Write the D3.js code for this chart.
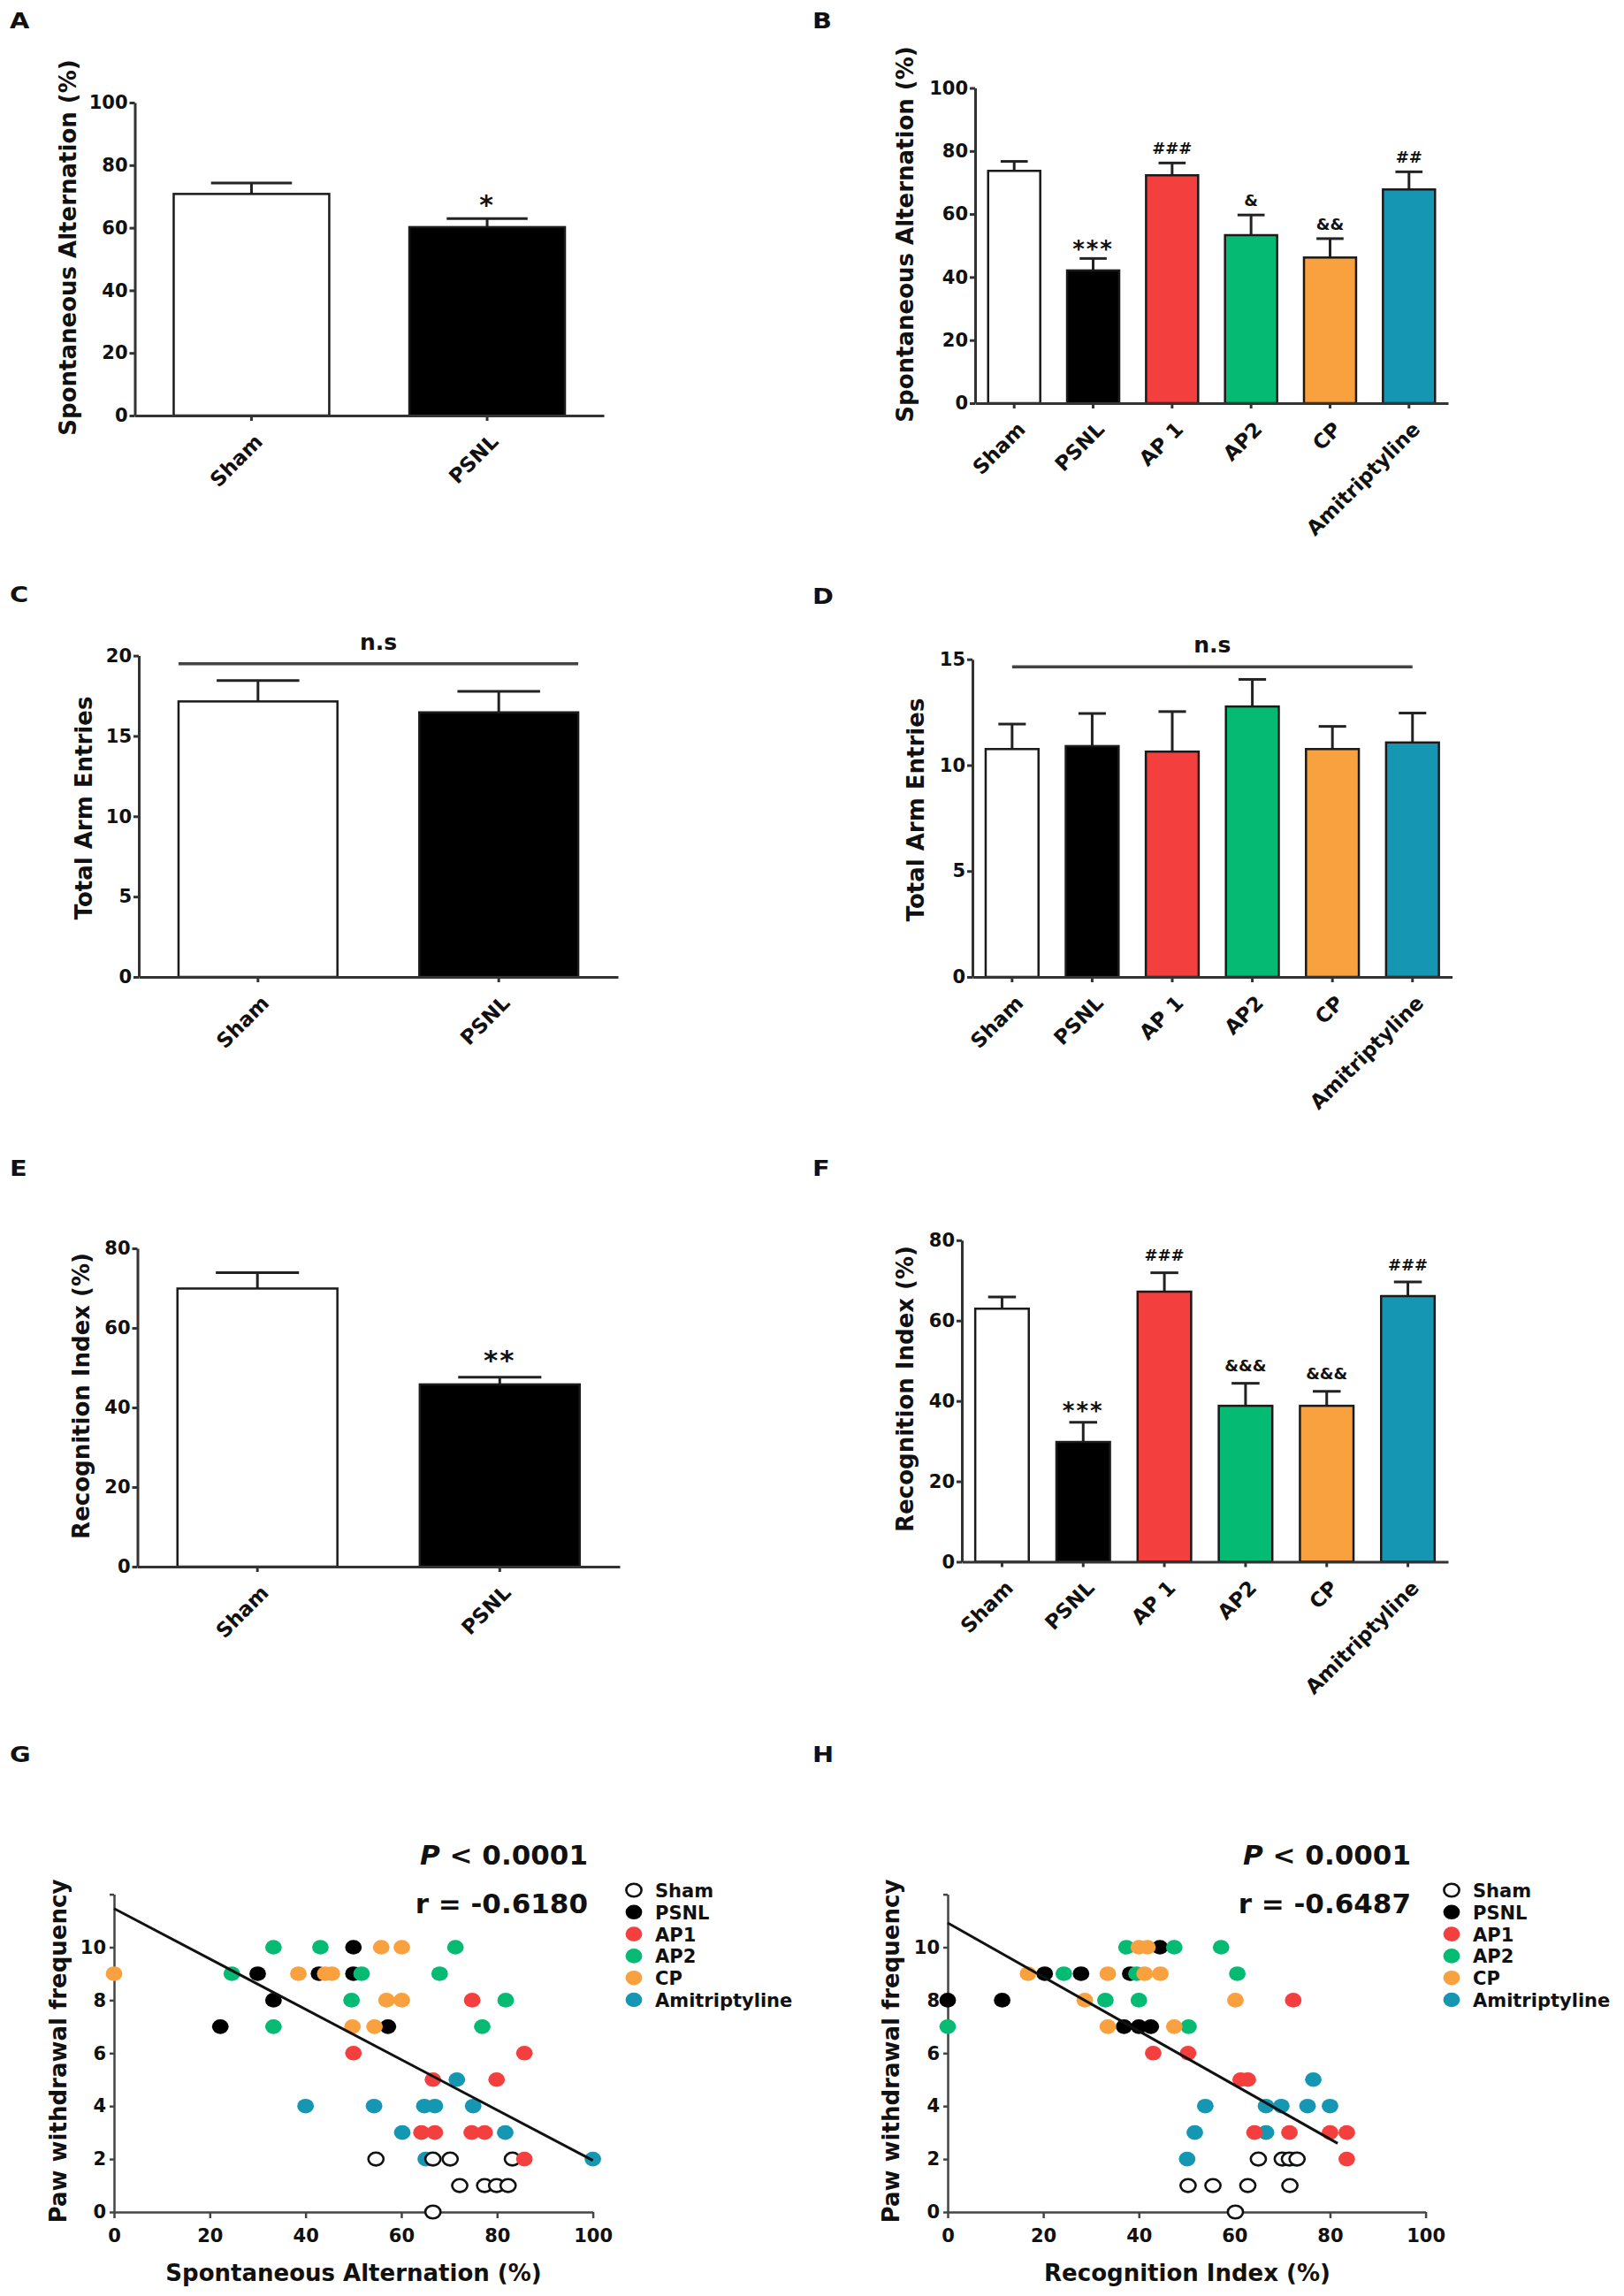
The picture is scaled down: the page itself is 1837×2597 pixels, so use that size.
<!DOCTYPE html>
<html>
<head>
<meta charset="utf-8">
<script src="https://cdn.jsdelivr.net/npm/d3@7"></script>
<style>
  body { margin: 0; background: #fff; }
  svg text { font-family: "DejaVu Sans", sans-serif; font-weight: bold; fill: #111; }
</style>
</head>
<body>
<svg id="fig" width="1837" height="2597"></svg>
<script>
/* DATA */
const groups2 = ["Sham", "PSNL"];
const groups6 = ["Sham", "PSNL", "AP 1", "AP2", "CP", "Amitriptyline"];
const fills = ["#ffffff", "#000000", "#f43f3f", "#05bb74", "#f9a13e", "#1596b2"];

// A / B : spontaneous alternation (%), mean and upper error
const altMean2 = [70.8, 60.2];
const altErr2 = [74.3, 62.9];
const altNote2 = ["", "*"];
const altMean6 = [73.7, 42.1, 72.3, 53.3, 46.2, 67.8];
const altErr6 = [76.7, 45.9, 76.2, 59.7, 52.2, 73.4];
const altNote6 = ["", "***", "###", "&", "&&", "##"];

// C / D : total arm entries
const armMean2 = [17.15, 16.47];
const armErr2 = [18.45, 17.77];
const armMean6 = [10.76, 10.9, 10.64, 12.77, 10.76, 11.07];
const armErr6 = [11.94, 12.44, 12.53, 14.05, 11.83, 12.46];

// E / F : recognition index (%)
const recMean2 = [69.9, 45.8];
const recErr2 = [73.9, 47.6];
const recNote2 = ["", "**"];
const recMean6 = [62.96, 29.8, 67.2, 38.8, 38.8, 66.1];
const recErr6 = [65.9, 34.7, 71.9, 44.4, 42.4, 69.6];
const recNote6 = ["", "***", "###", "&&&", "&&&", "###"];

// tick values
const ticksAlt = [0, 20, 40, 60, 80, 100];
const ticksArm2 = [0, 5, 10, 15, 20];
const ticksArm6 = [0, 5, 10, 15];
const ticksRec = [0, 20, 40, 60, 80];
const ticksPct = [0, 20, 40, 60, 80, 100];
const ticksPaw = [0, 2, 4, 6, 8, 10, 12];

// G : paw withdrawal vs spontaneous alternation
const legendNames = ["Sham", "PSNL", "AP1", "AP2", "CP", "Amitriptyline"];
const gShamX = [54.7, 66.6, 70.2, 83.2, 72.2, 77.4, 79.9, 82.3, 66.6];
const gShamY = [2, 2, 2, 2, 1, 1, 1, 1, 0];
const gPsnlX = [22.2, 30, 33.3, 42.8, 50, 50, 57.2];
const gPsnlY = [7, 9, 8, 9, 10, 9, 7];
const gAp1X = [74.8, 85.7, 50, 66.6, 79.9, 64.2, 67, 74.7, 77.4, 85.7];
const gAp1Y = [8, 6, 6, 5, 5, 3, 3, 3, 3, 2];
const gAp2X = [33.3, 43.1, 71.3, 24.6, 51.7, 68, 49.6, 81.8, 33.3, 76.9];
const gAp2Y = [10, 10, 10, 9, 9, 9, 8, 8, 7, 7];
const gCpX = [0, 55.8, 60.1, 38.5, 44.1, 45.5, 56.9, 60.1, 49.8, 54.4];
const gCpY = [9, 10, 10, 9, 9, 9, 8, 8, 7, 7];
const gAmiX = [40, 54.3, 64.8, 67, 71.6, 75, 60.2, 81.7, 65.1, 100];
const gAmiY = [4, 4, 4, 4, 5, 4, 3, 3, 2, 2];
const gFitX = [0, 100];
const gFitY = [11.46, 1.95];

// H : paw withdrawal vs recognition index
const hShamX = [50.3, 55.5, 62.8, 71.6, 65, 70, 71.5, 73.1, 60.2];
const hShamY = [1, 1, 1, 1, 2, 2, 2, 2, 0];
const hPsnlX = [0, 11.4, 20.3, 27.9, 38.2, 44.4, 36.9, 40, 42.5];
const hPsnlY = [8, 8, 9, 9, 9, 10, 7, 7, 7];
const hAp1X = [72.3, 43, 50.3, 61.3, 62.8, 64.2, 71.5, 80, 83.5, 83.5];
const hAp1Y = [8, 6, 6, 5, 5, 3, 3, 3, 3, 2];
const hAp2X = [37.4, 47.4, 57.2, 24.3, 39.5, 60.6, 33, 40, 50.4, 0];
const hAp2Y = [10, 10, 10, 9, 9, 9, 8, 8, 7, 7];
const hCpX = [40, 41.8, 16.8, 33.5, 41.2, 44.5, 28.7, 60.2, 33.5, 47.4];
const hCpY = [10, 10, 9, 9, 9, 9, 8, 8, 7, 7];
const hAmiX = [53.9, 66.6, 69.8, 75.3, 80, 76.5, 51.7, 66.6, 50.1, 72.6];
const hAmiY = [4, 4, 4, 4, 4, 5, 3, 3, 2, 2];
const hFitX = [0, 81.6];
const hFitY = [10.92, 2.59];

/* SETUP */
const svg = d3.select("#fig");
const axisColor = "#333";

// panel letters are a bit wider than the regular face, so stretch them
function panelLabel(txt, x, y) {
  svg.append("text")
    .attr("transform", `translate(${x},${y}) scale(1.2,1)`)
    .attr("font-size", 24).text(txt);
}

function yTitle(txt, cx, cy) {
  svg.append("text")
    .attr("transform", `translate(${cx},${cy}) rotate(-90)`)
    .attr("text-anchor", "middle")
    .attr("dy", "0.36em")
    .attr("font-size", 26)
    .text(txt);
}

function styleAxis(g, size) {
  g.attr("font-family", null).attr("font-size", size);
  g.selectAll("path, line").attr("stroke", axisColor).attr("stroke-width", 3);
  g.selectAll("text").attr("fill", "#111");
}

// baseline offset so that a symbol's visual centre sits on the given y
function noteShift(s, fs) {
  return s.startsWith("*") ? 0.62 * fs : 0.37 * fs;
}

function barPanel(o) {
  const x = d3.scaleBand().domain(o.cats)
    .range([o.x0, o.x1]).paddingInner(0.34).paddingOuter(0.165);
  const y = d3.scaleLinear().domain([0, o.yMax]).range([o.y0, o.yTop]);
  const g = svg.append("g");
  const bw = x.bandwidth();

  // error bars (upper only)
  const eb = g.selectAll("g.err").data(o.cats).join("g").attr("class", "err");
  eb.append("line")
    .attr("x1", d => x(d) + bw / 2).attr("x2", d => x(d) + bw / 2)
    .attr("y1", (d, i) => y(o.mean[i])).attr("y2", (d, i) => y(o.err[i]));
  eb.append("line")
    .attr("x1", d => x(d) + bw * 0.24).attr("x2", d => x(d) + bw * 0.76)
    .attr("y1", (d, i) => y(o.err[i])).attr("y2", (d, i) => y(o.err[i]));
  eb.selectAll("line").attr("stroke", "#222").attr("stroke-width", 3);

  g.selectAll("rect.bar").data(o.cats).join("rect")
    .attr("class", "bar")
    .attr("x", d => x(d))
    .attr("width", bw)
    .attr("y", (d, i) => y(o.mean[i]))
    .attr("height", (d, i) => o.y0 - y(o.mean[i]))
    .attr("fill", (d, i) => fills[i])
    .attr("stroke", "#1a1a1a")
    .attr("stroke-width", 2.5);

  // significance marks
  if (o.notes) {
    g.selectAll("text.note").data(o.cats).join("text")
      .attr("class", "note")
      .attr("text-anchor", "middle")
      .attr("x", d => x(d) + bw / 2)
      .attr("font-size", (d, i) => o.notes[i].startsWith("*") ? o.starSize : 18)
      .attr("letter-spacing", (d, i) => o.notes[i].startsWith("*") ? 2 : 0)
      .attr("y", (d, i) => {
        const fs = o.notes[i].startsWith("*") ? o.starSize : 18;
        return y(o.err[i]) - o.noteGap + noteShift(o.notes[i], fs);
      })
      .text((d, i) => o.notes[i]);
  }

  // n.s bracket
  if (o.ns) {
    const xa = o.ns.fromEdge ? x(o.cats[0]) : x(o.cats[0]) + bw / 2;
    const xb = o.ns.fromEdge ? x(o.cats[o.cats.length - 1]) + bw
                             : x(o.cats[o.cats.length - 1]) + bw / 2;
    g.append("line").attr("x1", xa).attr("x2", xb)
      .attr("y1", y(o.ns.level)).attr("y2", y(o.ns.level))
      .attr("stroke", "#444").attr("stroke-width", 3.5);
    g.append("text").attr("text-anchor", "middle")
      .attr("x", (xa + xb) / 2).attr("y", y(o.ns.level) - 16)
      .attr("font-size", 25).text("n.s");
  }

  const ya = g.append("g").attr("transform", `translate(${o.x0},0)`)
    .call(d3.axisLeft(y).tickValues(o.ticks).tickSize(6).tickPadding(2).tickSizeOuter(0));
  styleAxis(ya, 21);

  const xa = g.append("g").attr("transform", `translate(0,${o.y0})`)
    .call(d3.axisBottom(x).tickSize(6).tickSizeOuter(0));
  styleAxis(xa, 23);
  xa.selectAll("text")
    .attr("text-anchor", "end")
    .attr("x", 0).attr("y", 0).attr("dy", null)
    .attr("transform", "translate(14,31) rotate(-45)");

  panelLabel(o.label, o.lx, o.ly);
  yTitle(o.title, o.tx, o.ty);
}

function scatterPanel(o) {
  const x = d3.scaleLinear().domain([0, 100]).range([o.x0, o.x100]);
  const y = d3.scaleLinear().domain([0, 12]).range([2502, 2142.6]);
  const g = svg.append("g");

  const xa = g.append("g").attr("transform", `translate(0,${y(0)})`)
    .call(d3.axisBottom(x).tickValues(ticksPct).tickSize(7).tickPadding(12).tickSizeOuter(0));
  styleAxis(xa, 21);
  xa.selectAll("path, line").attr("stroke", "#444").attr("stroke-width", 2.5);

  const ya = g.append("g").attr("transform", `translate(${x(0)},0)`)
    .call(d3.axisLeft(y).tickValues(ticksPaw).tickSize(5).tickPadding(4).tickSizeOuter(0)
      .tickFormat(d => d === 12 ? "" : d));
  styleAxis(ya, 21);
  ya.selectAll("path, line").attr("stroke", "#444").attr("stroke-width", 2.5);

  // draw order: Amitriptyline, Sham, PSNL, AP1, AP2, CP
  const order = [5, 0, 1, 2, 3, 4];
  order.forEach(k => {
    const s = o.series[k];
    const pts = s.x.map((v, i) => ({ x: v, y: s.y[i] }));
    const open = k === 0;
    g.selectAll(null).data(pts).join("ellipse")
      .attr("cx", d => x(d.x)).attr("cy", d => y(d.y))
      .attr("rx", open ? 8.6 : 9.4).attr("ry", open ? 7.3 : 8.3)
      .attr("fill", fills[k])
      .attr("stroke", open ? "#111" : "none")
      .attr("stroke-width", open ? 2.6 : 0);
  });

  // regression line
  g.append("path")
    .datum(o.fitX.map((v, i) => [v, o.fitY[i]]))
    .attr("d", d3.line().x(d => x(d[0])).y(d => y(d[1])))
    .attr("stroke", "#111").attr("stroke-width", 3).attr("fill", "none");

  // statistics
  const p = g.append("text").attr("text-anchor", "end")
    .attr("x", o.statX).attr("y", 2109).attr("font-size", 31);
  p.append("tspan").attr("font-style", "italic").text("P");
  p.append("tspan").text(" < 0.0001");
  g.append("text").attr("text-anchor", "end")
    .attr("x", o.statX).attr("y", 2164).attr("font-size", 31).text(o.r);

  // legend
  const lg = g.append("g").attr("class", "legend");
  legendNames.forEach((name, i) => {
    const ly = 2138 + i * 24.8;
    lg.append("ellipse").attr("cx", o.legX).attr("cy", ly)
      .attr("rx", i === 0 ? 8.6 : 9.4).attr("ry", i === 0 ? 7.3 : 8.3)
      .attr("fill", fills[i])
      .attr("stroke", i === 0 ? "#111" : "none").attr("stroke-width", 2.6);
    lg.append("text").attr("x", o.legX + 24).attr("y", ly + 8)
      .attr("font-size", 21).text(name);
  });

  // x title
  g.append("text").attr("text-anchor", "middle")
    .attr("x", o.xtx).attr("y", 2580).attr("font-size", 26).text(o.xTitle);

  panelLabel(o.label, o.lx, 1993);
  yTitle("Paw withdrawal frequency", o.ytx, 2320);
}

/* PANELS */
barPanel({ label: "A", lx: 11, ly: 32, cats: groups2, mean: altMean2, err: altErr2,
  notes: altNote2, starSize: 30, noteGap: 24, yMax: 100, ticks: ticksAlt,
  x0: 152.5, x1: 683, y0: 470, yTop: 116,
  title: "Spontaneous Alternation (%)", tx: 77, ty: 280 });

barPanel({ label: "B", lx: 919, ly: 32, cats: groups6, mean: altMean6, err: altErr6,
  notes: altNote6, starSize: 26, noteGap: 17, yMax: 100, ticks: ticksAlt,
  x0: 1103, x1: 1638, y0: 456, yTop: 99.5,
  title: "Spontaneous Alternation (%)", tx: 1024, ty: 265 });

barPanel({ label: "C", lx: 11, ly: 681, cats: groups2, mean: armMean2, err: armErr2,
  yMax: 20, ticks: ticksArm2, ns: { level: 19.5, fromEdge: true },
  x0: 157, x1: 699, y0: 1105, yTop: 741.6,
  title: "Total Arm Entries", tx: 95, ty: 914 });

barPanel({ label: "D", lx: 919, ly: 683, cats: groups6, mean: armMean6, err: armErr6,
  yMax: 15, ticks: ticksArm6, ns: { level: 14.64, fromEdge: false },
  x0: 1100, x1: 1642.6, y0: 1105, yTop: 745.7,
  title: "Total Arm Entries", tx: 1036, ty: 916 });

barPanel({ label: "E", lx: 11, ly: 1330, cats: groups2, mean: recMean2, err: recErr2,
  notes: recNote2, starSize: 31, noteGap: 28, yMax: 80, ticks: ticksRec,
  x0: 155.5, x1: 701, y0: 1772, yTop: 1412,
  title: "Recognition Index (%)", tx: 92, ty: 1579 });

barPanel({ label: "F", lx: 919, ly: 1330, cats: groups6, mean: recMean6, err: recErr6,
  notes: recNote6, starSize: 26, noteGap: 20, yMax: 80, ticks: ticksRec,
  x0: 1088, x1: 1638, y0: 1766.5, yTop: 1402.8,
  title: "Recognition Index (%)", tx: 1024, ty: 1571 });

scatterPanel({ label: "G", lx: 11, x0: 129, x100: 670.6,
  series: [
    { x: gShamX, y: gShamY }, { x: gPsnlX, y: gPsnlY }, { x: gAp1X, y: gAp1Y },
    { x: gAp2X, y: gAp2Y }, { x: gCpX, y: gCpY }, { x: gAmiX, y: gAmiY }],
  fitX: gFitX, fitY: gFitY, r: "r = -0.6180", statX: 665,
  legX: 717, xTitle: "Spontaneous Alternation (%)", xtx: 400, ytx: 66 });

scatterPanel({ label: "H", lx: 919, x0: 1072, x100: 1612.6,
  series: [
    { x: hShamX, y: hShamY }, { x: hPsnlX, y: hPsnlY }, { x: hAp1X, y: hAp1Y },
    { x: hAp2X, y: hAp2Y }, { x: hCpX, y: hCpY }, { x: hAmiX, y: hAmiY }],
  fitX: hFitX, fitY: hFitY, r: "r = -0.6487", statX: 1596,
  legX: 1642, xTitle: "Recognition Index (%)", xtx: 1343, ytx: 1008 });
</script>
</body>
</html>
